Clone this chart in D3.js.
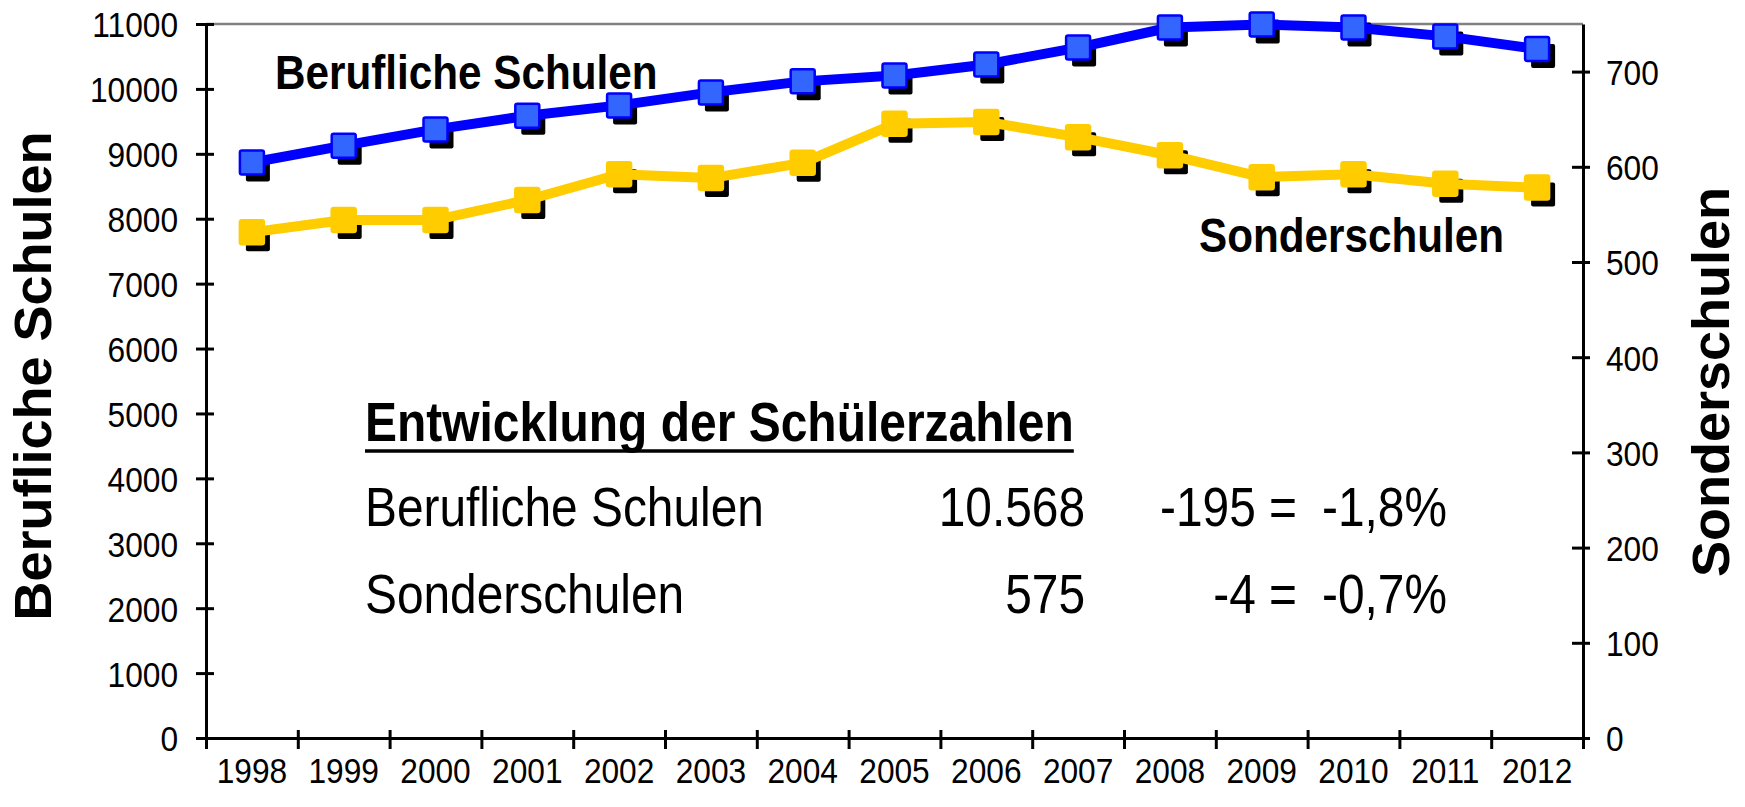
<!DOCTYPE html>
<html>
<head>
<meta charset="utf-8">
<script src="https://cdn.jsdelivr.net/npm/d3@7"></script>
<style>
  body { margin: 0; background: #fff; }
  text { font-family: "Liberation Sans", Arial, sans-serif; fill: #000; }
</style>
</head>
<body>
<script>
// data
let years = ["1998", "1999", "2000", "2001", "2002", "2003", "2004", "2005",
             "2006", "2007", "2008", "2009", "2010", "2011", "2012"];
let berufliche = [8820, 9080, 9330, 9540, 9700, 9900, 10070, 10160,
                  10330, 10590, 10900, 10945, 10900, 10763, 10568];
let sonder = [528, 541, 541, 562, 589, 585, 601, 642,
              644, 628, 609, 586, 589, 579, 575];
let leftTicks = [0, 1000, 2000, 3000, 4000, 5000, 6000, 7000, 8000, 9000, 10000, 11000];
let rightTicks = [0, 100, 200, 300, 400, 500, 600, 700];
let tableRows = [
    { name: "Berufliche Schulen", value: "10.568", diff: "-195 =", pct: "-1,8%" },
    { name: "Sonderschulen", value: "575", diff: "-4 =", pct: "-0,7%" }
];

let w = 1745, h = 807;
let plotLeft = 206, plotRight = 1583, plotTop = 24, plotBottom = 738;

let svg = d3.select("body").append("svg")
    .attr("width", w)
    .attr("height", h)
    .style("background-color", "#fff");

let x = d3.scaleBand().domain(years).range([plotLeft, plotRight]);
let xEdge = d3.scaleLinear().domain([0, years.length]).range([plotLeft, plotRight]);
let yL = d3.scaleLinear().domain([0, 11000]).range([plotBottom, plotTop]);
let yR = d3.scaleLinear().domain([0, 750]).range([plotBottom, plotTop]);

function cx(d, i) { return x(years[i]) + x.bandwidth() / 2; }

// grey top frame line
svg.append("line")
    .attr("x1", plotLeft).attr("x2", plotRight)
    .attr("y1", yL(11000)).attr("y2", yL(11000))
    .style("stroke", "#808080")
    .style("stroke-width", 2.5);

// left axis
let axL = svg.append("g")
    .attr("transform", "translate(" + plotLeft + ",0)")
    .call(d3.axisLeft(yL).tickValues(leftTicks).tickFormat(d3.format("d")).tickSize(0).tickSizeOuter(0));
axL.selectAll(".tick line").attr("x1", -10).attr("x2", 8);
axL.selectAll(".tick text")
    .attr("x", 0).attr("dy", "0.36em")
    .attr("transform", "translate(-28,0) scale(0.88,1)")
    .style("font-size", "36px").style("font-family", "Liberation Sans, Arial, sans-serif");

// right axis
let axR = svg.append("g")
    .attr("transform", "translate(" + plotRight + ",0)")
    .call(d3.axisRight(yR).tickValues(rightTicks).tickFormat(d3.format("d")).tickSize(0).tickSizeOuter(0));
axR.selectAll(".tick line").attr("x1", -11).attr("x2", 7);
axR.selectAll(".tick text")
    .attr("x", 0).attr("dy", "0.36em")
    .attr("transform", "translate(23,0) scale(0.88,1)")
    .style("font-size", "36px").style("font-family", "Liberation Sans, Arial, sans-serif");

// x axis: ticks at category edges, labels at centres
let axX = svg.append("g")
    .attr("transform", "translate(0," + plotBottom + ")")
    .call(d3.axisBottom(xEdge).tickValues(d3.range(0, years.length + 1)).tickFormat("").tickSize(0).tickSizeOuter(0));
axX.selectAll(".tick line").attr("y1", -8).attr("y2", 11);

let axXlab = svg.append("g")
    .attr("transform", "translate(0," + plotBottom + ")")
    .call(d3.axisBottom(x).tickSize(0).tickSizeOuter(0));
axXlab.select(".domain").remove();
axXlab.selectAll(".tick text")
    .attr("y", 0).attr("dy", 0)
    .attr("transform", "translate(0,45) scale(0.88,1)")
    .style("font-size", "36px").style("font-family", "Liberation Sans, Arial, sans-serif");

svg.selectAll(".domain").style("stroke", "#000").style("stroke-width", 3);
svg.selectAll(".tick line").style("stroke", "#000").style("stroke-width", 3);

// series
let series = [
    { values: berufliche, y: yL, line: "#0000FF", fill: "#3366FF", stroke: "#0000FF" },
    { values: sonder, y: yR, line: "#FFCC00", fill: "#FFCC00", stroke: "#FFCC00" }
];
let ms = 24;
let lift = 3; // front layer sits a bit above the shadow

// shadows first
series.forEach(function(s) {
    svg.selectAll(null)
        .data(s.values)
        .enter()
        .append("rect")
        .attr("x", function(d, i) { return cx(d, i) - ms / 2 + 6; })
        .attr("y", function(d) { return s.y(d) - lift - ms / 2 + 7; })
        .attr("width", ms).attr("height", ms)
        .attr("rx", 2)
        .style("fill", "#000");
});

series.forEach(function(s) {
    let line = d3.line()
        .x(function(d, i) { return cx(d, i); })
        .y(function(d) { return s.y(d) - lift; });
    svg.append("path")
        .datum(s.values)
        .attr("d", line)
        .style("fill", "none")
        .style("stroke", s.line)
        .style("stroke-width", 10)
        .style("stroke-linejoin", "round");
});

series.forEach(function(s) {
    svg.selectAll(null)
        .data(s.values)
        .enter()
        .append("rect")
        .attr("x", function(d, i) { return cx(d, i) - ms / 2; })
        .attr("y", function(d) { return s.y(d) - lift - ms / 2; })
        .attr("width", ms).attr("height", ms)
        .attr("rx", 2)
        .style("fill", s.fill)
        .style("stroke", s.stroke)
        .style("stroke-width", 2.5);
});

// axis titles
svg.append("text")
    .attr("transform", "translate(51,376) scale(0.95,1) rotate(-90)")
    .attr("text-anchor", "middle")
    .style("font-size", "54px").style("font-weight", "bold")
    .text("Berufliche Schulen");

svg.append("text")
    .attr("transform", "translate(1729,382) scale(0.95,1) rotate(-90)")
    .attr("text-anchor", "middle")
    .style("font-size", "54px").style("font-weight", "bold")
    .text("Sonderschulen");

// horizontal text, slightly condensed like the original
function squeezed(xp, yp, anchor, size, weight, txt, sq) {
    return svg.append("text")
        .attr("transform", "translate(" + xp + "," + yp + ") scale(" + sq + ",1)")
        .attr("text-anchor", anchor)
        .style("font-size", size + "px")
        .style("font-weight", weight)
        .text(txt);
}
squeezed(275, 89, "start", 48, "bold", "Berufliche Schulen", 0.88);
squeezed(1199, 252, "start", 48, "bold", "Sonderschulen", 0.88);

// info box
let title = squeezed(365, 441, "start", 55, "bold", "Entwicklung der Schülerzahlen", 0.872);
let tw = title.node().getBBox().width * 0.872;
svg.append("line")
    .attr("x1", 365).attr("x2", 365 + tw)
    .attr("y1", 451).attr("y2", 451)
    .style("stroke", "#000").style("stroke-width", 3.5);

let rowY = [526, 613];
tableRows.forEach(function(r, i) {
    squeezed(365, rowY[i], "start", 55, "normal", r.name, 0.87);
    squeezed(1085, rowY[i], "end", 55, "normal", r.value, 0.87);
    squeezed(1297, rowY[i], "end", 55, "normal", r.diff, 0.87);
    squeezed(1447, rowY[i], "end", 55, "normal", r.pct, 0.87);
});
</script>
</body>
</html>
